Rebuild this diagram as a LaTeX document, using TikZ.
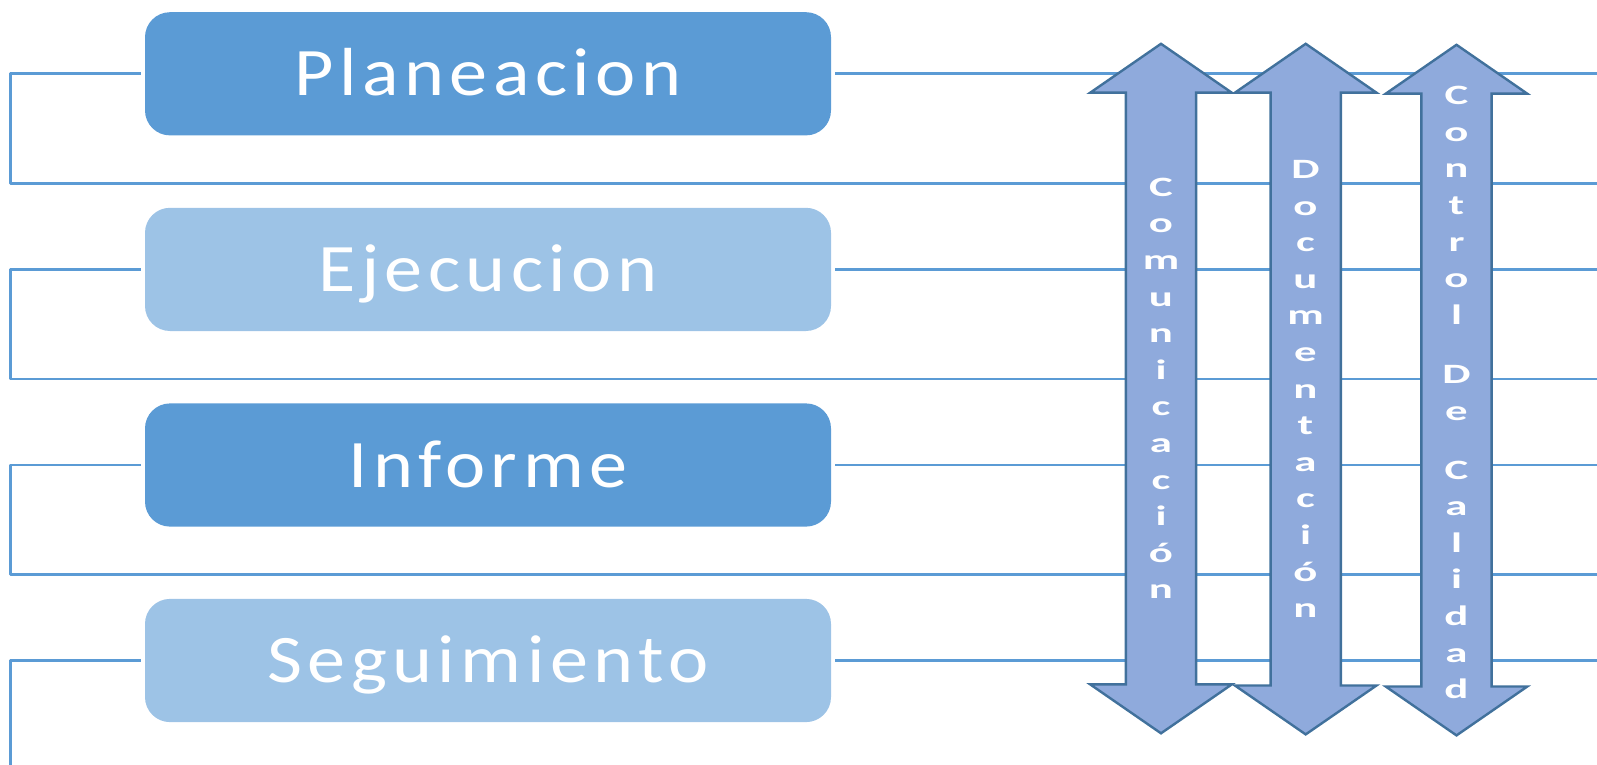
\documentclass[tikz,border=0pt]{standalone}
\usepackage{fontspec}
\setmainfont{Carlito}
\newfontfamily\boxfont[LetterSpace=8,FakeStretch=1.12]{Carlito}
\newfontfamily\stackfont[FakeStretch=1.6]{Carlito Bold}
\definecolor{boxdark}{HTML}{5B9BD5}
\definecolor{boxlight}{HTML}{9DC3E6}
\definecolor{linkblue}{HTML}{5B9BD5}
\definecolor{arrowfill}{HTML}{8FAADC}
\definecolor{arrowline}{HTML}{41719C}
\begin{document}
\begin{tikzpicture}[x=0.5pt,y=-0.5pt, line join=round, line cap=round,
    stagebox/.style={rounded corners=12.5pt, minimum width=343pt, minimum height=61.6pt,
      inner sep=0pt, text=white, font=\boxfont\fontsize{34}{40}\selectfont, text height=22pt, text depth=0pt},
    darkbox/.style={stagebox, fill=boxdark},
    lightbox/.style={stagebox, fill=boxlight},
    link/.style={draw=linkblue, line width=1.4pt, line cap=butt},
    arrowbody/.style={fill=arrowfill, draw=arrowline, line width=1.2pt, line join=miter},
    stacktext/.style={anchor=north, inner sep=0pt, align=center, text=white,
      font=\stackfont\fontsize{14}{18.3}\selectfont}]
  \useasboundingbox (0,0) rectangle (1597,765);
  \clip (0,0) rectangle (1597,765);
  % etapas
  \node[darkbox]  (plan) at (488,73.8)  {Planeacion};
  \node[lightbox] (ejec) at (488,269.4) {Ejecucion};
  \node[darkbox]  (info) at (488,465)   {Informe};
  \node[lightbox] (segu) at (488,660.5) {Seguimiento};
  % lineas
  \foreach \n/\yb in {plan/183.3, ejec/378.9, info/574.4, segu/800}{
    \draw[link] ([xshift=-2pt]\n.west) -| (10.2,\yb) -- (1610,\yb);
    \draw[link] ([xshift=2pt]\n.east) -- (1610,0 |- \n.east);
  }
  % flechas dobles
  \foreach \cx/\ty/\by in {1161/43.8/733.3, 1305.7/43.8/734.4, 1456.5/44.8/735.4}
    \draw[arrowbody] (\cx,\ty) -- ++(70.8,48.9) -- ++(-35.7,0) -- (\cx+35.1,\by-48.9) -- ++(35.7,0)
      -- (\cx,\by) -- ++(-70.8,-48.9) -- ++(35.7,0) -- (\cx-35.1,\ty+48.9) -- ++(-35.7,0) -- cycle;
  \node[stacktext] (comu) at (1161,177.5) {C\\o\\m\\u\\n\\i\\c\\a\\c\\i\\ó\\n};
  \node[stacktext] (docu) at (1305.5,160) {D\\o\\c\\u\\m\\e\\n\\t\\a\\c\\i\\ó\\n};
  \node[stacktext] (cali) at (1456.5,86) {C\\o\\n\\t\\r\\o\\l\\[11.5pt]D\\e\\[11pt]C\\a\\l\\i\\d\\a\\d};
\end{tikzpicture}
\end{document}
